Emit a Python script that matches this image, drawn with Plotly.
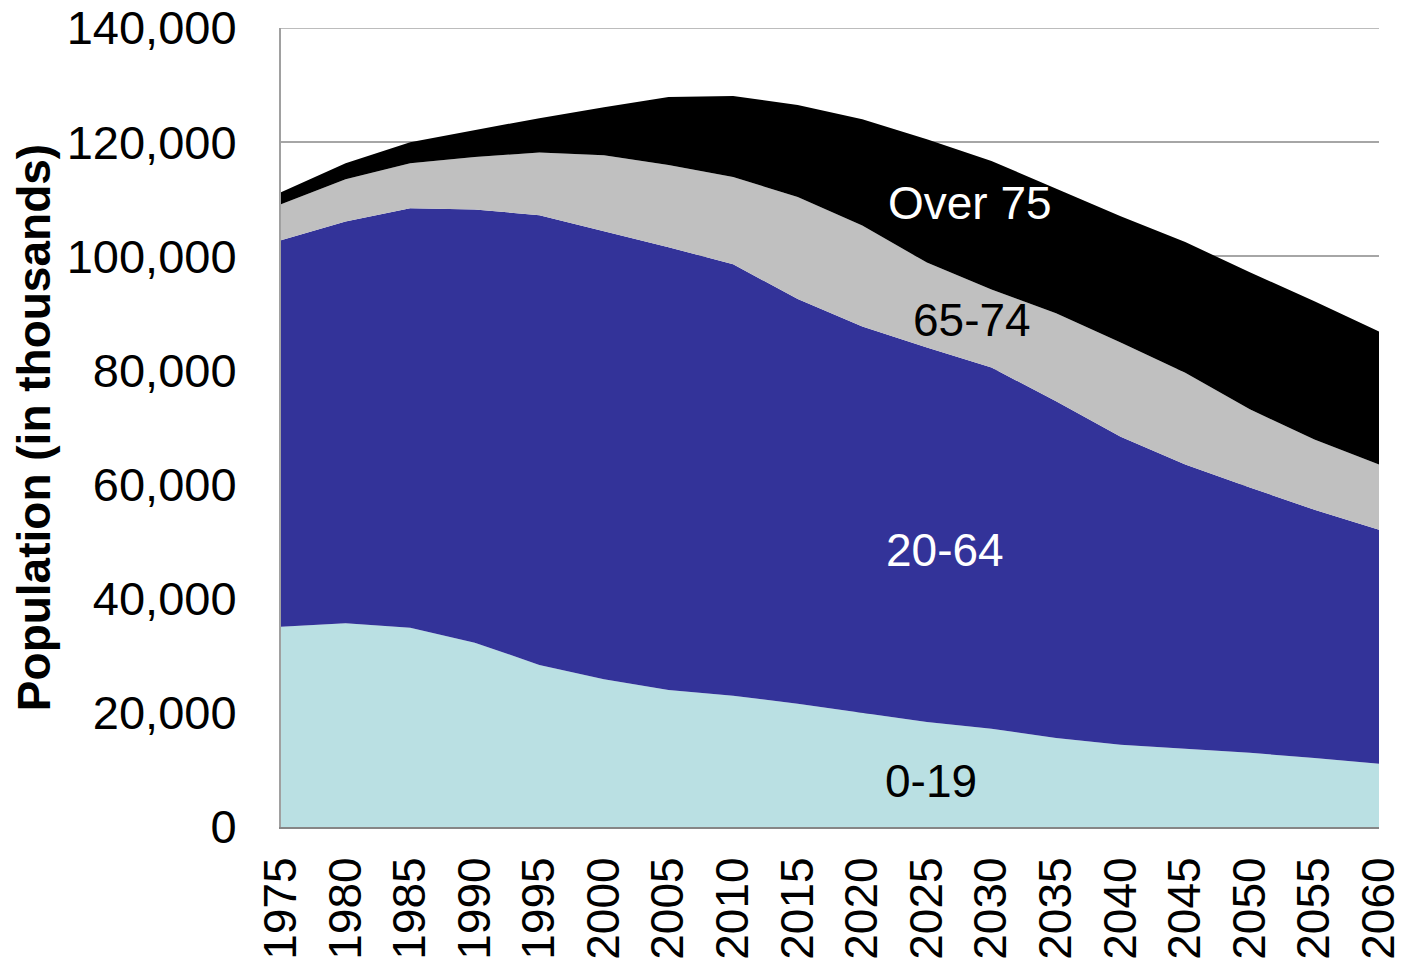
import plotly.graph_objects as go

years = [1975, 1980, 1985, 1990, 1995, 2000, 2005, 2010, 2015, 2020,
         2025, 2030, 2035, 2040, 2045, 2050, 2055, 2060]

age_0_19 = [35100, 35700, 34900, 32300, 28400, 25900, 24000, 23000, 21600,
            20000, 18400, 17200, 15600, 14400, 13700, 13000, 12100, 11100]
age_20_64 = [67700, 70400, 73500, 75900, 78800, 78500, 77600, 75600, 70900,
             67700, 65600, 63300, 59000, 54000, 49800, 46500, 43500, 41000]
age_65_74 = [6300, 7400, 7900, 9200, 11000, 13300, 14400, 15300, 17900,
             17700, 14900, 13700, 15400, 16500, 16100, 13700, 12300, 11400]
age_75_plus = [2100, 2800, 3700, 4700, 6000, 8400, 11900, 14200, 16100,
               18600, 21600, 22500, 21800, 22100, 22900, 24000, 24200, 23300]

series_names = ["0-19", "20-64", "65-74", "Over 75"]
series_values = [age_0_19, age_20_64, age_65_74, age_75_plus]
series_colors = ["#BAE0E3", "#333399", "#C0C0C0", "#000000"]

label_text = ["0-19", "20-64", "65-74", "Over 75"]
label_x = [2025.3, 2026.4, 2028.5, 2028.3]
label_y = [8100, 48600, 88900, 109300]
label_colors = ["#000000", "#FFFFFF", "#000000", "#FFFFFF"]

y_ticks = [0, 20000, 40000, 60000, 80000, 100000, 120000, 140000]

FONT = "Liberation Sans, Arial, sans-serif"

fig = go.Figure()
for name, vals, col in zip(series_names, series_values, series_colors):
    fig.add_trace(go.Scatter(
        x=years, y=vals, name=name, mode="lines",
        stackgroup="one", line=dict(width=0, color=col),
        fillcolor=col, showlegend=False,
    ))

for t, x, y, c in zip(label_text, label_x, label_y, label_colors):
    fig.add_annotation(x=x, y=y, text=t, showarrow=False,
                       font=dict(family=FONT, size=46, color=c),
                       xanchor="center", yanchor="middle")

# top gridline at the upper end of the value axis
fig.add_shape(type="line", xref="paper", x0=0, x1=1, yref="y",
              y0=y_ticks[-1], y1=y_ticks[-1],
              line=dict(color="#A6A6A6", width=1.5), layer="below")

fig.update_layout(
    width=1396, height=957,
    margin=dict(l=273, r=25, t=20, b=138, autoexpand=False),
    paper_bgcolor="white", plot_bgcolor="white",
    font=dict(family=FONT, size=46, color="#000000"),
)
fig.update_xaxes(
    range=[1975, 2060], tickvals=years, ticktext=[str(y) for y in years],
    tickangle=-90, showgrid=False, zeroline=False, automargin=False,
    showline=True, linecolor="#868686", linewidth=2,
    ticks="", ticklabelstandoff=10, ticklabeloverflow="allow",
    tickfont=dict(family=FONT, size=46, color="#000000"),
)
fig.update_yaxes(
    range=[0, 140000], tickvals=y_ticks, tickformat=",",
    showgrid=True, gridcolor="#A6A6A6", gridwidth=1.5, automargin=False,
    zeroline=False, showline=True, linecolor="#A0A0A0", linewidth=2,
    ticks="", ticklabelstandoff=33, ticklabeloverflow="allow",
    tickfont=dict(family=FONT, size=47, color="#000000"),
    title=dict(text="<b>Population (in thousands)</b>",
               font=dict(family=FONT, size=46, color="#000000"),
               standoff=12),
)

fig.write_html("out.html")
